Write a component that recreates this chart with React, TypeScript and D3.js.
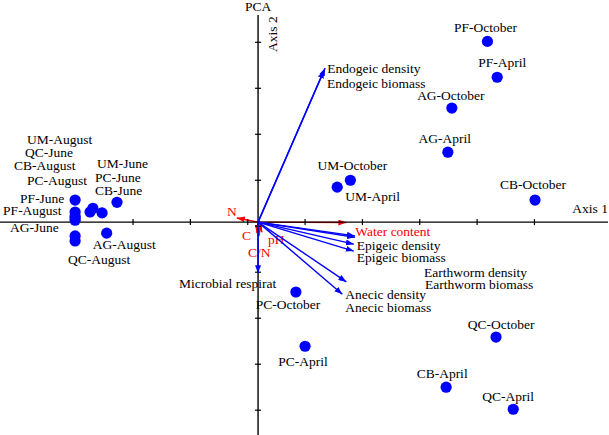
import React, { useEffect, useRef } from "react";
import * as d3 from "d3";

// sample scores (axis 1, axis 2)
const sampleNames = [
  "PF-October", "PF-April", "AG-October", "AG-April", "CB-October", "UM-October",
  "UM-April", "PC-October", "PC-April", "QC-October", "CB-April", "QC-April",
  "PF-June", "PF-August", "UM-August", "QC-June", "CB-August", "PC-August",
  "UM-June", "PC-June", "CB-June", "AG-June", "QC-August", "AG-August",
];
const sampleAxis1 = [
  4.0, 4.17, 3.38, 3.31, 4.83, 1.61,
  1.38, 0.66, 0.82, 4.15, 3.28, 4.45,
  -3.19, -3.19, -3.19, -3.19, -3.19, -2.93,
  -2.88, -2.72, -2.46, -3.19, -3.19, -2.64,
];
const sampleAxis2 = [
  3.93, 3.15, 2.48, 1.52, 0.48, 0.91,
  0.76, -1.52, -2.7, -2.5, -3.59, -4.07,
  0.48, 0.22, 0.13, 0.09, 0.04, 0.22,
  0.3, 0.2, 0.43, -0.3, -0.41, -0.24,
];

// earthworm / microbial variables (blue)
const bioNames = [
  "Endogeic density", "Endogeic biomass", "Earthworm density", "Earthworm biomass",
  "Epigeic density", "Epigeic biomass", "Anecic density", "Anecic biomass",
  "Microbial respirat",
];
const bioAxis1 = [1.17, 1.15, 1.69, 1.69, 1.67, 1.67, 1.54, 1.47, 0];
const bioAxis2 = [3.35, 3.3, -0.3, -0.33, -0.48, -0.63, -1.3, -1.57, -1.11];

// soil variables (red)
const soilNames = ["N", "C", "pH", "C/N", "Water content"];
const soilAxis1 = [-0.37, -0.02, 0.07, 0.02, 1.54];
const soilAxis2 = [0.09, -0.24, -0.22, -0.3, -0.01];

const axis1Ticks = [-3.19, -2.18, -1.18, -0.18, 0.82, 1.82, 2.82, 3.82, 4.82];
const axis2Ticks = [3.91, 2.91, 1.91, 0.91, -0.09, -1.09, -2.09, -3.09, -4.09];

// label placement relative to the mark: [dx, dy, anchor]
const labelPlace: Record<string, [number, number, string]> = {
  "PF-October": [-2, -9, "middle"],
  "PF-April": [5, -10, "middle"],
  "AG-October": [-1, -8, "middle"],
  "AG-April": [-3, -9, "middle"],
  "CB-October": [-2, -11, "middle"],
  "UM-October": [2, -10, "middle"],
  "UM-April": [8, 14, "start"],
  "PC-October": [-8, 17, "middle"],
  "PC-April": [-2, 20, "middle"],
  "QC-October": [5, -8, "middle"],
  "CB-April": [-4, -9, "middle"],
  "QC-April": [-5, -8, "middle"],
  "UM-August": [-48, -72, "start"],
  "QC-June": [-50, -61, "start"],
  "CB-August": [-61, -50, "start"],
  "PC-August": [-63, -27, "start"],
  "PF-June": [-55, 3, "start"],
  "PF-August": [-72, 3, "start"],
  "AG-June": [-65, -4, "start"],
  "QC-August": [-7, 23, "start"],
  "UM-June": [4, -40, "start"],
  "PC-June": [-7, -31, "start"],
  "CB-June": [-22, -7, "start"],
  "AG-August": [-14, 16, "start"],
  "Endogeic density": [2, 5, "start"],
  "Endogeic biomass": [3, 18, "start"],
  "Earthworm density": [69, 41, "start"],
  "Earthworm biomass": [70, 52, "start"],
  "Epigeic density": [3, 6, "start"],
  "Epigeic biomass": [3, 11, "start"],
  "Anecic density": [-1, 17, "start"],
  "Anecic biomass": [3, 18, "start"],
  "Microbial respirat": [-79, 15, "start"],
  N: [0, -2, "end"],
  C: [-6, 7, "end"],
  pH: [6, 12, "start"],
  "C/N": [0, 21, "middle"],
  "Water content": [9, 13, "start"],
};

const W = 609;
const H = 435;
const FONT = "'Liberation Serif', 'Times New Roman', serif";
const BLUE = "#0000ff";
const RED = "#ff0000";

export default function App() {
  const ref = useRef<SVGSVGElement>(null);

  useEffect(() => {
    const svg = d3.select(ref.current);
    svg.selectAll("*").remove();

    const x = d3.scaleLinear().domain([-4.5, 6.12]).range([0, W]);
    const y = d3.scaleLinear().domain([-4.63, 4.83]).range([H, 0]);
    const x0 = x(0);
    const y0 = y(0);

    const defs = svg.append("defs");
    [["headBlue", BLUE], ["headRed", RED]].forEach(([id, c]) => {
      defs
        .append("marker")
        .attr("id", id)
        .attr("markerUnits", "userSpaceOnUse")
        .attr("markerWidth", 9)
        .attr("markerHeight", 6)
        .attr("refX", 8)
        .attr("refY", 3)
        .attr("orient", "auto")
        .append("path")
        .attr("d", "M0,0 L8,3 L0,6 Z")
        .attr("fill", c);
    });

    const txt = (s: string, px: number, py: number, color = "#000") => {
      const p = labelPlace[s] || [0, 0, "start"];
      svg.append("text")
        .attr("x", px + p[0])
        .attr("y", py + p[1])
        .attr("text-anchor", p[2])
        .attr("fill", color)
        .style("font-family", FONT)
        .style("font-size", "13.5px")
        .text(s);
    };

    // soil variable arrows (under the axes)
    soilNames.forEach((n, i) => {
      const tx = x(soilAxis1[i]);
      const ty = y(soilAxis2[i]);
      svg.append("line")
        .attr("x1", x0).attr("y1", y0)
        .attr("x2", tx).attr("y2", ty)
        .attr("stroke", RED).attr("stroke-width", 1.4)
        .attr("marker-end", "url(#headRed)");
      txt(n, tx, ty, RED);
    });

    // axes
    svg.append("line")
      .attr("x1", 0).attr("x2", W - 1)
      .attr("y1", y0).attr("y2", y0)
      .attr("stroke", "#000").attr("stroke-width", 1.4);
    svg.append("line")
      .attr("x1", x0).attr("x2", x0)
      .attr("y1", 15).attr("y2", H)
      .attr("stroke", "#000").attr("stroke-width", 1.4);

    svg.selectAll("line.xtick")
      .data(axis1Ticks)
      .join("line")
      .attr("class", "xtick")
      .attr("x1", (d) => x(d)).attr("x2", (d) => x(d))
      .attr("y1", y0 - 3).attr("y2", y0 + 3)
      .attr("stroke", "#000").attr("stroke-width", 1.2);
    svg.selectAll("line.ytick")
      .data(axis2Ticks)
      .join("line")
      .attr("class", "ytick")
      .attr("x1", x0 - 3).attr("x2", x0 + 3)
      .attr("y1", (d) => y(d)).attr("y2", (d) => y(d))
      .attr("stroke", "#000").attr("stroke-width", 1.2);

    // titles
    svg.append("text")
      .attr("x", x0).attr("y", 11)
      .attr("text-anchor", "middle")
      .style("font-family", FONT).style("font-size", "13.5px")
      .text("PCA");
    svg.append("text")
      .attr("transform", `translate(${x0 + 19},52) rotate(-90)`)
      .style("font-family", FONT).style("font-size", "13.5px")
      .text("Axis 2");
    svg.append("text")
      .attr("x", W - 1).attr("y", y0 - 9)
      .attr("text-anchor", "end")
      .style("font-family", FONT).style("font-size", "13.5px")
      .text("Axis 1");

    // biological variable arrows
    bioNames.forEach((n, i) => {
      const tx = x(bioAxis1[i]);
      const ty = y(bioAxis2[i]);
      svg.append("line")
        .attr("x1", x0).attr("y1", y0)
        .attr("x2", tx).attr("y2", ty)
        .attr("stroke", BLUE).attr("stroke-width", 1.4)
        .attr("marker-end", "url(#headBlue)");
      txt(n, tx, ty);
    });

    // samples
    sampleNames.forEach((n, i) => {
      const px = x(sampleAxis1[i]);
      const py = y(sampleAxis2[i]);
      svg.append("circle")
        .attr("cx", px).attr("cy", py)
        .attr("r", 5.6)
        .attr("fill", BLUE);
      txt(n, px, py);
    });
  }, []);

  return (
    <svg
      ref={ref}
      width={W}
      height={H}
      style={{ position: "absolute", left: 0, top: 0, background: "#fff" }}
    />
  );
}
